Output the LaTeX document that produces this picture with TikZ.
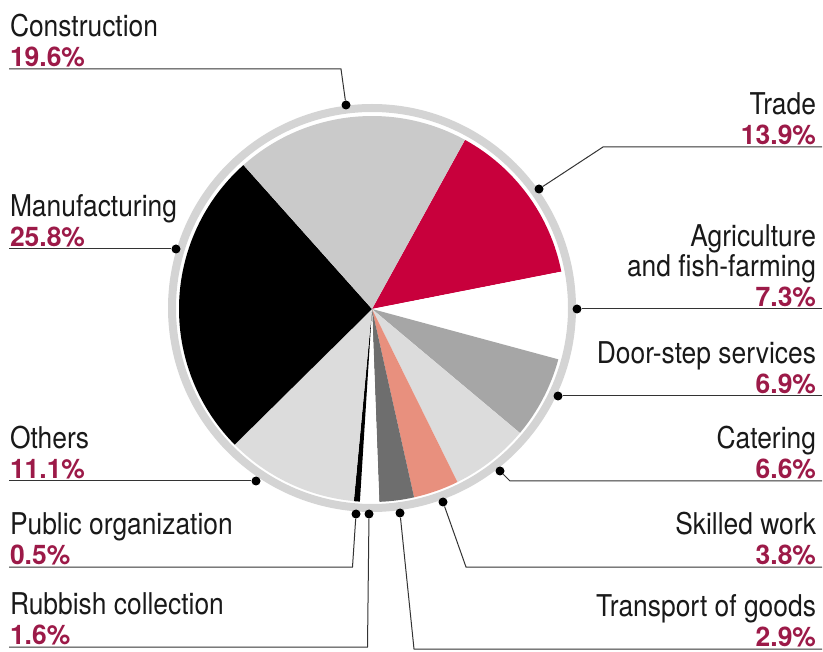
\documentclass[tikz,border=0pt]{standalone}
\usepackage{fontspec}
\setmainfont{TeX Gyre Heros}[FakeStretch=0.88, BoldFeatures={FakeStretch=0.98}]
\usepackage{xcolor}
\usepackage{tikz}
\definecolor{tradered}{HTML}{C8003C}
\definecolor{pctred}{HTML}{9C1A48}
\definecolor{ringgray}{HTML}{D4D4D4}
\definecolor{constrgray}{HTML}{CACACA}
\definecolor{lightgray}{HTML}{DCDCDC}
\definecolor{doorgray}{HTML}{A6A6A6}
\definecolor{transgray}{HTML}{6E6E6E}
\definecolor{salmon}{HTML}{E8907E}

\newcommand{\pct}[1]{{\color{pctred}\bfseries\fontsize{27}{30}\selectfont #1\%}}

\begin{document}
\begin{tikzpicture}[x=1pt, y=-1pt,
                    dot/.style={circle, fill=black, inner sep=0pt, minimum size=9pt},
                    leader/.style={draw=black!80, line width=1pt},
                    lbl/.style={inner sep=0pt, outer xsep=0pt, outer ysep=2pt,
                                text=black!90, font=\fontsize{30}{30}\selectfont}]
    \useasboundingbox (0,0) rectangle (823,652);

   % ring and pie
   \coordinate (c) at (372,309);
   \draw[ringgray, line width=8pt] (372,308) circle[radius=200];
   \foreach \val/\col [remember=\e as \s (initially -61.2)] in
      {13.9/tradered, 7.3/white, 6.9/doorgray, 6.6/lightgray, 3.8/salmon,
       2.9/transgray, 1.6/white, 0.5/black, 11.1/lightgray, 25.8/black,
       19.6/constrgray}{
      \pgfmathsetmacro{\e}{\s+3.6*\val}
      \fill[\col] (c) -- ++(\s:193) arc[start angle=\s, end angle=\e, radius=193] -- cycle;
   }

   % dots on the ring
   \node[dot] (dconstr) at (346,105) {};
   \node[dot] (dtrade)  at (539,189) {};
   \node[dot] (dagri)   at (577,309) {};
   \node[dot] (ddoor)   at (558,396) {};
   \node[dot] (dcater)  at (500,471) {};
   \node[dot] (dskill)  at (443,502) {};
   \node[dot] (dtrans)  at (400,513) {};
   \node[dot] (drubb)   at (369,514) {};
   \node[dot] (dpublic) at (356,514) {};
   \node[dot] (dothers) at (256,481) {};
   \node[dot] (dmanuf)  at (176,249) {};

   % labels, left
   \node[lbl, anchor=south west, align=left] (constr) at (10,69) {Construction\\\pct{19.6}};
   \node[lbl, anchor=south west, align=left] (manuf)  at (10,249) {Manufacturing\\\pct{25.8}};
   \node[lbl, anchor=south west, align=left] (others) at (10,481) {Others\\\pct{11.1}};
   \node[lbl, anchor=south west, align=left] (public) at (10,567) {Public organization\\\pct{0.5}};
   \node[lbl, anchor=south west, align=left] (rubb)   at (10,647) {Rubbish collection\\\pct{1.6}};

   % labels, right
   \node[lbl, anchor=south east, align=right] (trade) at (816,147) {Trade\\\pct{13.9}};
   \node[lbl, anchor=south east, align=right] (agri)  at (816,309) {Agriculture\\and fish-farming\\\pct{7.3}};
   \node[lbl, anchor=south east, align=right] (door)  at (816,396) {Door-step services\\\pct{6.9}};
   \node[lbl, anchor=south east, align=right] (cater) at (816,481) {Catering\\\pct{6.6}};
   \node[lbl, anchor=south east, align=right] (skill) at (816,567) {Skilled work\\\pct{3.8}};
   \node[lbl, anchor=south east, align=right] (trans) at (816,649) {Transport of goods\\\pct{2.9}};

   % leaders
   \draw[leader] ([xshift=-1pt]constr.south west) -- (341,69) -- (dconstr);
   \draw[leader] ([xshift=-1pt]manuf.south west) -- (dmanuf);
   \draw[leader] ([xshift=-1pt]others.south west) -- (dothers);
   \draw[leader] ([xshift=-1pt]public.south west) -- (352.5,567) -- (dpublic);
   \draw[leader] ([xshift=-1pt]rubb.south west) -- (367.5,647) -- (drubb);
   \draw[leader] ([xshift=6pt]trade.south east) -- (603,147) -- (dtrade);
   \draw[leader] ([xshift=6pt]agri.south east) -- (dagri);
   \draw[leader] ([xshift=6pt]door.south east) -- (ddoor);
   \draw[leader] ([xshift=6pt]cater.south east) -- (510,481) -- (dcater);
   \draw[leader] ([xshift=6pt]skill.south east) -- (466,567) -- (dskill);
   \draw[leader] ([xshift=6pt]trans.south east) -- (414,649) -- (dtrans);

\end{tikzpicture}
\end{document}
